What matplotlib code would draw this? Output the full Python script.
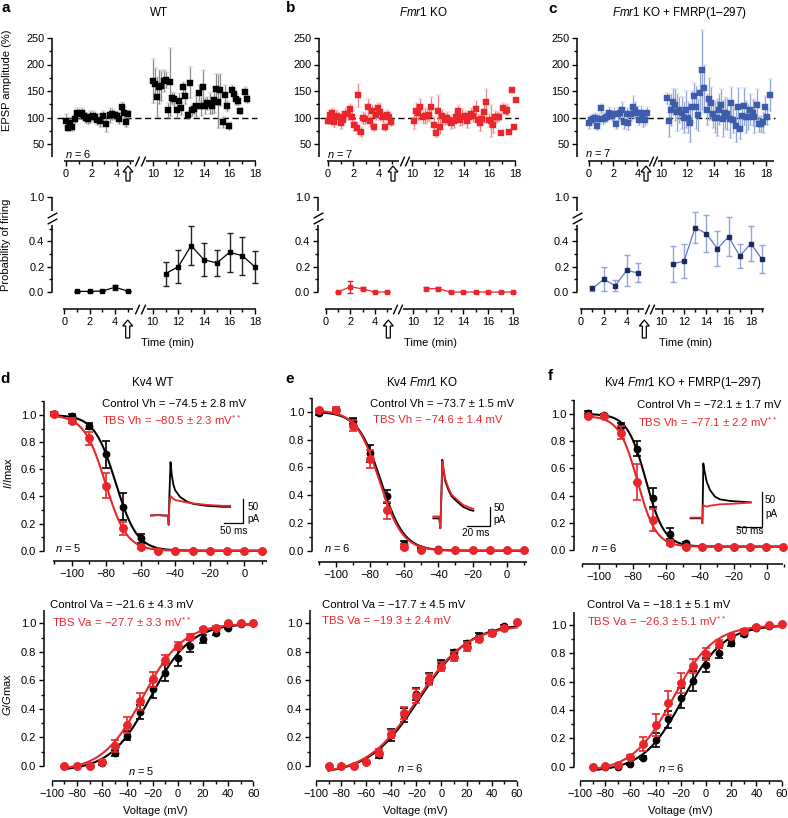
import numpy as np
import matplotlib
matplotlib.use('Agg')
import matplotlib.pyplot as plt
from matplotlib.path import Path
from matplotlib.lines import Line2D

plt.rcParams['font.family'] = ['Liberation Sans', 'DejaVu Sans']
plt.rcParams['mathtext.fontset'] = 'custom'
plt.rcParams['mathtext.rm'] = 'Liberation Sans'
plt.rcParams['mathtext.it'] = 'Liberation Sans:italic'
plt.rcParams['mathtext.bf'] = 'Liberation Sans:bold'
plt.rcParams['axes.unicode_minus'] = True

# ============================ DATA ============================
# ---- (a) WT : EPSP amplitude (%) ----
wt_pre_t = [0.0, 0.15, 0.34, 0.46, 0.72, 0.85, 1.06, 1.24, 1.42, 1.57, 1.73, 1.88, 2.09, 2.27,
            2.45, 2.66, 2.92, 3.17, 3.43, 3.61, 3.82, 4.0, 4.15, 4.36, 4.52, 4.72, 4.88]
wt_pre_amp = [94, 80, 89, 83, 97, 108, 106, 108, 102, 99, 97, 101, 103, 101,
              96, 94, 103, 88, 104, 106, 105, 103, 98, 119, 109, 91, 106]
wt_pre_err = [12, 6, 10, 8, 8, 10, 9, 10, 8, 10, 9, 12, 10, 8,
              10, 12, 10, 15, 14, 10, 8, 8, 10, 10, 10, 9, 8]
wt_post_t = [9.97, 10.13, 10.31, 10.49, 10.65, 10.83, 11.01, 11.16, 11.34, 11.52, 11.65, 11.86,
             12.04, 12.19, 12.37, 12.55, 12.71, 12.89, 13.07, 13.23, 13.41, 13.59, 13.74, 13.92,
             14.1, 14.26, 14.44, 14.62, 14.77, 14.95, 15.11, 15.29, 15.47, 15.65, 15.81, 15.99,
             16.17, 16.32, 16.5, 16.66, 16.81, 17.2, 17.35]
wt_post_amp = [169, 164, 139, 157, 159, 169, 171, 114, 167, 136, 134, 114,
               132, 117, 157, 141, 105, 166, 114, 116, 121, 146, 121, 157,
               122, 127, 126, 122, 133, 153, 130, 152, 91, 143, 122, 84,
               152, 144, 134, 131, 112, 149, 135]
wt_post_err = [41, 30, 38, 32, 28, 20, 15, 14, 64, 10, 12, 14,
               15, 12, 10, 15, 8, 30, 12, 10, 20, 15, 18, 32,
               15, 12, 20, 15, 25, 30, 50, 30, 10, 18, 10, 8,
               10, 10, 10, 8, 6, 8, 8]

# ---- (b) Fmr1 KO : EPSP amplitude (%) ----
ko_pre_t = [0.0, 0.13, 0.32, 0.47, 0.66, 0.84, 1.0, 1.18, 1.37, 1.53, 1.71, 1.89, 2.05, 2.24,
            2.39, 2.55, 2.76, 2.92, 3.11, 3.29, 3.45, 3.61, 3.79, 3.95, 4.11, 4.29, 4.45, 4.61,
            4.76, 4.95]
ko_pre_amp = [94, 105, 108, 92, 102, 101, 90, 96, 107, 107, 116, 101, 85, 80,
              142, 73, 99, 98, 119, 93, 112, 82, 105, 117, 110, 101, 82, 105, 101, 92]
ko_pre_err = [6, 10, 10, 10, 12, 10, 12, 10, 10, 12, 10, 12, 10, 12,
              22, 10, 12, 10, 15, 10, 12, 8, 10, 10, 15, 10, 8, 10, 10, 8]
ko_post_t = [10.13, 10.31, 10.46, 10.65, 10.83, 10.98, 11.16, 11.34, 11.5, 11.68, 11.83, 12.01,
             12.19, 12.35, 12.53, 12.71, 12.86, 13.05, 13.23, 13.38, 13.56, 13.74, 13.9, 14.08,
             14.26, 14.41, 14.59, 14.77, 14.93, 15.11, 15.26, 15.45, 15.6, 15.75, 15.94, 16.12,
             16.27, 16.43, 16.63, 16.79, 16.94, 17.1, 17.28, 17.41, 17.56, 17.74, 17.9, 18.05]
ko_post_amp = [93, 112, 108, 120, 101, 102, 103, 105, 120, 86, 71, 113,
               83, 102, 96, 99, 95, 89, 93, 101, 112, 96, 101, 102,
               93, 101, 107, 103, 116, 96, 89, 97, 110, 129, 95, 93,
               86, 101, 101, 101, 71, 118, 113, 115, 72, 151, 83, 133]
ko_post_err = [15, 15, 12, 15, 12, 15, 12, 12, 18, 15, 8, 30,
               15, 12, 10, 12, 10, 10, 12, 10, 12, 12, 15, 10,
               12, 12, 10, 12, 15, 10, 15, 12, 20, 25, 12, 30,
               15, 12, 10, 8, 0, 10, 8, 10, 0, 0, 0, 0]

# ---- (c) Fmr1 KO + FMRP(1-297) : EPSP amplitude (%) ----
res_pre_t = [0.0, 0.17, 0.3, 0.5, 0.66, 0.86, 0.97, 1.19, 1.35, 1.52, 1.68, 1.88, 2.07, 2.23,
             2.4, 2.57, 2.76, 2.92, 3.12, 3.26, 3.45, 3.61, 3.78, 3.94, 4.11, 4.28, 4.44, 4.61, 4.77]
res_pre_amp = [89, 95, 98, 100, 84, 97, 117, 98, 100, 101, 109, 103, 106, 87,
               106, 108, 115, 91, 106, 89, 106, 120, 114, 109, 95, 109, 98, 95, 109]
res_pre_err = [10, 10, 8, 8, 8, 10, 8, 10, 8, 10, 10, 10, 12, 8,
               12, 12, 15, 12, 12, 12, 12, 20, 15, 12, 10, 12, 15, 10, 10]
res_post_t = [10.43, 10.61, 10.76, 10.94, 11.09, 11.25, 11.4, 11.58, 11.73, 11.88,
              12.04, 12.21, 12.37, 12.52, 12.67, 12.85, 13.0, 13.16, 13.31, 13.49,
              13.64, 13.79, 13.94, 14.12, 14.27, 14.43, 14.58, 14.73, 14.89, 15.06,
              15.22, 15.37, 15.52, 15.7, 15.85, 16.01, 16.16, 16.34, 16.49, 16.64,
              16.79, 16.97, 17.12, 17.28, 17.43, 17.61, 17.76, 17.94, 18.09, 18.3]
res_post_amp = [136, 93, 114, 129, 123, 110, 114, 109, 100, 115,
                100, 89, 120, 141, 119, 104, 147, 190, 155, 115,
                135, 127, 106, 100, 100, 115, 123, 98, 109, 106,
                97, 127, 95, 84, 120, 79, 102, 121, 101, 101,
                115, 109, 101, 123, 87, 87, 91, 120, 101, 142]
res_post_err = [10, 30, 30, 25, 30, 35, 25, 30, 30, 35,
                30, 35, 30, 25, 40, 30, 40, 75, 45, 30,
                40, 30, 25, 30, 35, 30, 30, 35, 30, 30,
                35, 30, 25, 30, 35, 20, 25, 35, 30, 25,
                30, 25, 30, 30, 15, 15, 20, 20, 15, 30]

# ---- Probability of firing ----
prob_pre_t = [1, 2, 3, 4, 5]
wt_prob_pre = [0.005, 0.005, 0.008, 0.037, 0.008]
wt_prob_pre_err = [0.003, 0.003, 0.003, 0.02, 0.003]
wt_prob_post_t = [11, 12, 13, 14, 15, 16, 17, 18]
wt_prob_post = [0.145, 0.20, 0.366, 0.255, 0.229, 0.313, 0.287, 0.197]
wt_prob_post_err = [0.095, 0.13, 0.155, 0.13, 0.10, 0.155, 0.15, 0.125]

ko_prob_pre = [0.0, 0.042, 0.024, 0.0, 0.0]
ko_prob_pre_err = [0.0, 0.048, 0.012, 0.0, 0.0]
ko_prob_post_t = [11, 12, 13, 14, 15, 16, 17, 18]
ko_prob_post = [0.026, 0.026, 0.0, 0.0, 0.0, 0.0, 0.0, 0.0]
ko_prob_post_err = [0.01, 0.012, 0.0, 0.0, 0.0, 0.0, 0.0, 0.0]

res_prob_pre = [0.029, 0.10, 0.05, 0.171, 0.15]
res_prob_pre_err = [0.02, 0.095, 0.045, 0.12, 0.075]
res_prob_post_t = [11, 12, 13, 14, 15, 16, 17, 18, 19]
res_prob_post = [0.221, 0.245, 0.508, 0.46, 0.342, 0.437, 0.284, 0.382, 0.258]
res_prob_post_err = [0.14, 0.135, 0.12, 0.145, 0.14, 0.155, 0.095, 0.14, 0.11]

# ---- (d-f) Kv4 steady-state inactivation (I/Imax) ----
inact_v = [-110, -100, -90, -80, -70, -60, -50, -40, -30, -20, -10, 0, 10]
d_inact_ctrl = [1.01, 0.995, 0.92, 0.71, 0.325, 0.09, 0.0, 0.0, 0.0, 0.0, 0.0, 0.0, 0.0]
d_inact_ctrl_err = [0.01, 0.01, 0.02, 0.10, 0.10, 0.03, 0.0, 0, 0, 0, 0, 0, 0]
d_inact_tbs = [1.005, 0.958, 0.828, 0.48, 0.165, 0.03, 0.0, 0.0, 0.0, 0.0, 0.0, 0.0, 0.0]
d_inact_tbs_err = [0.01, 0.02, 0.05, 0.095, 0.05, 0.015, 0.0, 0, 0, 0, 0, 0, 0]

e_inact_ctrl = [0.99, 1.01, 0.935, 0.70, 0.39, 0.05, 0.015, 0.015, 0.005, 0.005, 0.005, 0.005, 0.005]
e_inact_ctrl_err = [0.015, 0.01, 0.02, 0.06, 0.045, 0.02, 0.005, 0, 0, 0, 0, 0, 0]
e_inact_tbs = [1.01, 1.015, 0.90, 0.66, 0.29, 0.03, 0.005, 0.005, 0.005, 0.005, 0.005, 0.005, 0.005]
e_inact_tbs_err = [0.01, 0.02, 0.04, 0.065, 0.06, 0.015, 0.0, 0, 0, 0, 0, 0, 0]

f_inact_v = [-106.5, -97, -87, -77.5, -68, -58, -48.5, -39, -29, -19.5, -10, -0.5, 9.5]
f_inact_ctrl = [1.01, 0.99, 0.915, 0.745, 0.385, 0.12, 0.05, 0.025, 0.025, 0.025, 0.025, 0.025, 0.025]
f_inact_ctrl_err = [0.01, 0.01, 0.02, 0.055, 0.07, 0.04, 0.01, 0, 0, 0, 0, 0, 0]
f_inact_tbs = [0.985, 0.985, 0.863, 0.50, 0.22, 0.055, 0.02, 0.025, 0.025, 0.025, 0.025, 0.025, 0.025]
f_inact_tbs_err = [0.01, 0.01, 0.05, 0.135, 0.08, 0.015, 0.005, 0, 0, 0, 0, 0, 0]

# Boltzmann fit parameters (Vh, slope, top, bottom)
d_inact_fit_ctrl = (-74.5, 6.2, 1.0, 0.0)
d_inact_fit_tbs = (-80.5, 6.2, 1.0, 0.0)
e_inact_fit_ctrl = (-73.7, 6.8, 1.0, 0.0)
e_inact_fit_tbs = (-74.6, 6.8, 1.01, 0.0)
f_inact_fit_ctrl = (-72.1, 5.5, 1.0, 0.025)
f_inact_fit_tbs = (-77.1, 5.5, 0.985, 0.025)

# ---- (d-f) Kv4 activation (G/Gmax) ----
act_v = [-90, -80, -70, -60, -50, -40, -30, -20, -10, 0, 10, 20, 30, 40, 50, 60]
d_act_ctrl = [0.0, 0.0, 0.0, 0.02, 0.09, 0.213, 0.38, 0.537, 0.654, 0.76, 0.84, 0.89, 0.935, 0.97, 0.995, 1.0]
d_act_ctrl_err = [0, 0, 0, 0.015, 0.02, 0.03, 0.05, 0.06, 0.06, 0.06, 0.04, 0.03, 0.02, 0.01, 0.005, 0]
d_act_tbs = [0.0, 0.0, 0.0, 0.03, 0.14, 0.287, 0.455, 0.607, 0.743, 0.84, 0.906, 0.958, 0.97, 1.0, 1.0, 1.0]
d_act_tbs_err = [0, 0, 0, 0.01, 0.04, 0.055, 0.06, 0.05, 0.035, 0.03, 0.02, 0.01, 0.01, 0.005, 0, 0]
e_act_ctrl = [0, 0, 0, 0.025, 0.078, 0.217, 0.357, 0.505, 0.62, 0.724, 0.80, 0.86, 0.914, 0.942, 0.98, 1.01]
e_act_ctrl_err = [0, 0, 0, 0.005, 0.02, 0.04, 0.05, 0.045, 0.035, 0.02, 0.015, 0.015, 0.015, 0.01, 0.01, 0]
e_act_tbs = [0, 0, 0, 0.025, 0.093, 0.224, 0.37, 0.49, 0.607, 0.696, 0.766, 0.836, 0.89, 0.93, 0.965, 1.01]
e_act_tbs_err = [0, 0, 0, 0.005, 0.025, 0.03, 0.04, 0.05, 0.04, 0.03, 0.03, 0.03, 0.02, 0.02, 0.015, 0]
f_act_ctrl = [0, 0, 0, 0.02, 0.064, 0.188, 0.334, 0.482, 0.607, 0.718, 0.805, 0.875, 0.935, 0.976, 0.995, 1.01]
f_act_ctrl_err = [0, 0, 0, 0.005, 0.01, 0.05, 0.06, 0.07, 0.07, 0.05, 0.035, 0.02, 0.015, 0.01, 0.005, 0]
f_act_tbs = [0, 0.005, 0.014, 0.07, 0.158, 0.294, 0.452, 0.593, 0.71, 0.795, 0.866, 0.922, 0.96, 0.988, 1.0, 1.01]
f_act_tbs_err = [0, 0, 0, 0.015, 0.05, 0.08, 0.085, 0.07, 0.05, 0.04, 0.025, 0.015, 0.01, 0.005, 0, 0]

d_act_fit_ctrl = (-21.6, 16.0, 1.0, -0.035)
d_act_fit_tbs = (-27.7, 16.0, 1.0, -0.035)
e_act_fit_ctrl = (-17.7, 20.0, 1.0, -0.06)
e_act_fit_tbs = (-19.3, 20.0, 0.99, -0.06)
f_act_fit_ctrl = (-18.1, 16.0, 1.0, -0.035)
f_act_fit_tbs = (-26.3, 16.0, 1.0, -0.035)

# ---- inset current traces (ms, pA) ----
d_trace_t = [0, 20, 40, 47, 48.3, 50, 53, 56, 60, 65, 78, 95, 112, 147, 190, 207]
d_trace_ctrl = [0, 1, 0, 0, -19, 40, 110, 85, 65, 52, 38, 29, 24, 20, 18, 18]
d_trace_tbs = [0, 1, 0, 0, -19, 20, 40, 38, 35, 32, 30, 27, 25, 22, 20, 20]
e_trace_t = [0, 5.1, 6.0, 6.9, 7.7, 8.6, 10, 12.9, 15.7, 20, 25.7, 31.5, 34.3]
e_trace_ctrl = [0, 0, -26, 60, 154, 130, 100, 75, 58, 45, 30, 22, 20]
e_trace_tbs = [5, 5, -26, 60, 150, 135, 105, 80, 62, 50, 35, 28, 25]
f_trace_t = [0, 23.6, 25, 26.4, 27.1, 29.3, 34.3, 41.4, 52.1, 62.8, 84.3, 105.7, 128.5]
f_trace_ctrl = [0, 0, -7.1, 42.8, 78.5, 69, 52.4, 40.5, 30.9, 27.1, 24.8, 23.8, 22.8]
f_trace_tbs = [1, 1, -7.1, 14.3, 19, 18.1, 16.7, 18.1, 19, 20, 20.5, 21.4, 22.4]

# ============================ STYLE / HELPERS ============================
RED = '#e8262b'
RED_LIGHT = '#f07f82'
BLUE = '#3d5cac'
BLUE_LIGHT = '#93a5d8'
BLUE_LINE = '#5b76c6'
NAVY = '#1c2a5e'
GRAY = '#8a8a8a'
FS = 8
FS_NOTE = 8.2
FS_TITLE = 8.4
SPW = 1.1

W, H = 788, 818
fig = plt.figure(figsize=(W / 100, H / 100), dpi=100)


def add_ax(l, t, r, b):
    return fig.add_axes([l / W, 1 - b / H, (r - l) / W, (b - t) / H])


def lin(p, v1, p1, v2, p2):
    return v1 + (p - p1) * (v2 - v1) / (p2 - p1)


def ftext(x, y, s, **kw):
    kw.setdefault('fontsize', FS)
    return fig.text(x / W, 1 - y / H, s, **kw)


def make_break(lo, hi, t_hi, r=1.0):
    xs = np.array([lo - 1e4, lo, hi, hi + 1e4])
    ts = np.array([lo - 1e4, lo, t_hi, t_hi + r * 1e4])

    def fwd(v):
        return np.interp(np.asarray(v, dtype=float), xs, ts)

    def inv(t):
        return np.interp(np.asarray(t, dtype=float), ts, xs)
    return fwd, inv


SLASH_X = Path([(-0.45, -1.0), (0.45, 1.0)], [Path.MOVETO, Path.LINETO])
SLASH_Y = Path([(-1.0, -0.55), (1.0, 0.55)], [Path.MOVETO, Path.LINETO])


def style(ax, fs=FS):
    for s in ('top', 'right'):
        ax.spines[s].set_visible(False)
    for s in ('left', 'bottom'):
        ax.spines[s].set_linewidth(SPW)
        ax.spines[s].set_capstyle('butt')
    ax.tick_params(which='major', length=3.5, width=1.0, labelsize=fs, pad=2)
    ax.tick_params(which='minor', length=2.0, width=1.0)
    ax.patch.set_visible(False)


def break_x(ax, p0, s, t10, r, pl, pr, seg1, marks, seg2, x_end):
    fwd, inv = make_break(5.2, 9.6, t10 - r * 0.4, r)
    ax.set_xscale('function', functions=(fwd, inv))
    ax.set_xlim(float(inv((pl - p0) / s)), float(inv((pr - p0) / s)))
    ax.spines['bottom'].set_bounds(float(inv(seg1[0])), float(inv(seg1[1])))
    tr = ax.get_xaxis_transform()
    ax.add_line(Line2D([float(inv(seg2)), x_end], [0, 0], transform=tr, color='k',
                       lw=SPW, clip_on=False, solid_capstyle='butt'))
    ax.add_line(Line2D([float(inv(m)) for m in marks], [0, 0], transform=tr, ls='none',
                       marker=SLASH_X, markersize=7, markeredgecolor='k',
                       markeredgewidth=1.0, clip_on=False))


def hollow_arrow(x, tip, tail):
    fig.add_artist(matplotlib.patches.FancyArrow(
        x / W, 1 - tail / H, 0, (tail - tip) / H, width=4 / W, head_width=10 / W,
        head_length=6 / H, length_includes_head=True, fc='white', ec='k', lw=0.9,
        transform=fig.transFigure))


# ============================ TOP ROW : EPSP ============================
top_cfg = [
    dict(l=52, r=259, p0=66.0, s=12.75, t10=6.82, rr=1.0, seg1=(-0.15, 5.37),
         marks=(5.57, 6.06), seg2=6.27, xend=18.1, minor=[1, 3, 5, 11, 13, 15, 17],
         pre=(wt_pre_t, wt_pre_amp, wt_pre_err), post=(wt_post_t, wt_post_amp, wt_post_err),
         mc='k', ec=GRAY, n=r'$\mathit{n}$ = 6', npos=(65, 153.5), dash=(0.024, 0.99), arrow=128),
    dict(l=319, r=519, p0=328.0, s=12.75, t10=6.59, rr=1.01, seg1=(-0.08, 5.53),
         marks=(5.79, 6.18), seg2=6.45, xend=18.1, minor=[1, 3, 5, 11, 13, 15, 17],
         pre=(ko_pre_t, ko_pre_amp, ko_pre_err), post=(ko_post_t, ko_post_amp, ko_post_err),
         mc=RED, ec=RED_LIGHT, n=r'$\mathit{n}$ = 7', npos=(327, 154), dash=(0.005, 1.0), arrow=393),
    dict(l=577, r=777, p0=589.0, s=12.1, t10=5.95, rr=1.085, seg1=(-0.08, 4.99),
         marks=(5.14, 5.46), seg2=5.69, xend=18.6, minor=[1, 3, 11, 13, 15, 17],
         pre=(res_pre_t, res_pre_amp, res_pre_err), post=(res_post_t, res_post_amp, res_post_err),
         mc=BLUE, ec=BLUE_LIGHT, n=r'$\mathit{n}$ = 7', npos=(585, 153), dash=(0.01, 0.99), arrow=646),
]
TOPY = (250, 38, 50, 144)
for c in top_cfg:
    ax = add_ax(c['l'], 28, c['r'], 161)
    style(ax, 7.9)
    break_x(ax, c['p0'], c['s'], c['t10'], c['rr'], c['l'], c['r'], c['seg1'], c['marks'],
            c['seg2'], c['xend'])
    ax.set_ylim(lin(161, *TOPY), lin(28, *TOPY))
    ax.spines['left'].set_bounds(25, 250)
    ax.set_yticks([50, 100, 150, 200, 250])
    ax.set_yticks([75, 125, 175, 225], minor=True)
    maj = [0, 2, 4, 10, 12, 14, 16, 18]
    ax.set_xticks(maj, [str(v) for v in maj])
    ax.set_xticks(c['minor'], minor=True)
    ax.axhline(100, xmin=c['dash'][0], xmax=c['dash'][1], color='k', lw=1.0,
               ls=(0, (4.5, 2.5)), zorder=1)
    for (t, v, e) in (c['pre'], c['post']):
        ax.errorbar(t, v, yerr=e, fmt='s', ms=3.8, mfc=c['mc'], mec=c['mc'], mew=0.3,
                    ecolor=c['ec'], elinewidth=0.9, capsize=1.8, capthick=0.9, zorder=3)
    ftext(c['npos'][0], c['npos'][1], c['n'], ha='left', va='center', fontsize=7.9)
    hollow_arrow(c['arrow'], 166, 181)

# ============================ PROBABILITY ROW ============================
prob_cfg = [
    dict(l=52, r=259, p0=64.3, s=12.67, t10=6.98, rr=1.01, seg1=(-0.1, 5.45),
         marks=(5.76, 6.18), seg2=6.5, xend=18.05, minor=[1, 3, 5, 11, 13, 15, 17],
         pre=(prob_pre_t, wt_prob_pre, wt_prob_pre_err),
         post=(wt_prob_post_t, wt_prob_post, wt_prob_post_err),
         mc='k', lc='k', ec='#222222', arrow=127.7, tl=167.5),
    dict(l=318, r=517, p0=325.7, s=12.33, t10=7.1, rr=1.013, seg1=(-0.05, 5.35),
         marks=(5.62, 6.03), seg2=6.3, xend=18.05, minor=[1, 3, 5, 11, 13, 15, 17],
         pre=(prob_pre_t, ko_prob_pre, ko_prob_pre_err),
         post=(ko_prob_post_t, ko_prob_post, ko_prob_post_err),
         mc=RED, lc=RED, ec=RED, arrow=388.3, tl=430.5),
    dict(l=577, r=767, p0=581.0, s=11.42, t10=7.07, rr=0.976, seg1=(-0.09, 5.52),
         marks=(5.75, 6.19), seg2=6.48, xend=19.2, minor=[1, 3, 5, 11, 13, 15, 17, 19],
         pre=(prob_pre_t, res_prob_pre, res_prob_pre_err),
         post=(res_prob_post_t, res_prob_post, res_prob_post_err),
         mc=NAVY, lc=BLUE_LINE, ec=BLUE_LIGHT, arrow=644.3, tl=685.5),
]
fwd_y, inv_y = make_break(0.65, 1.0, 0.75, 1.0)
PY0, PYS = 292.0, 126.7
for c in prob_cfg:
    ax = add_ax(c['l'], 195, c['r'], 309)
    style(ax, 7.9)
    break_x(ax, c['p0'], c['s'], c['t10'], c['rr'], c['l'], c['r'], c['seg1'], c['marks'],
            c['seg2'], c['xend'])
    ax.set_yscale('function', functions=(fwd_y, inv_y))
    ax.set_ylim(float(inv_y((PY0 - 309) / PYS)), float(inv_y((PY0 - 195) / PYS)))
    ax.spines['left'].set_bounds(0.0, 0.53)
    ytr = ax.get_yaxis_transform()
    ax.add_line(Line2D([0, 0], [0.637, 1.0], transform=ytr, color='k', lw=SPW,
                       clip_on=False, solid_capstyle='butt'))
    ax.add_line(Line2D([0, 0], [0.56, 0.61], transform=ytr, ls='none', marker=SLASH_Y,
                       markersize=7, markeredgecolor='k', markeredgewidth=1.0, clip_on=False))
    ax.set_yticks([0.0, 0.2, 0.4, 1.0], ['0.0', '0.2', '0.4', '1.0'])
    ax.set_yticks([0.1, 0.3, 0.5], minor=True)
    maj = [0, 2, 4, 10, 12, 14, 16, 18]
    ax.set_xticks(maj, [str(v) for v in maj])
    ax.set_xticks(c['minor'], minor=True)
    for (t, v, e) in (c['pre'], c['post']):
        ax.errorbar(t, v, yerr=e, fmt='-s', ms=3.3, color=c['lc'], mfc=c['mc'], mec=c['mc'],
                    lw=0.9, ecolor=c['ec'], elinewidth=1.0, capsize=2.2, capthick=1.0,
                    zorder=3)
    ftext(c['tl'], 343, 'Time (min)', ha='center', va='center')
    hollow_arrow(c['arrow'], 320, 338)

# ============================ INACTIVATION ROW ============================
def boltz_inact(v, p):
    vh, k, top, bot = p
    return bot + (top - bot) / (1 + np.exp((v - vh) / k))


def boltz_act(v, p):
    va, k, top, bot = p
    return bot + (top - bot) / (1 + np.exp(-(v - va) / k))


inact_cfg = [
    dict(rect=(44, 400, 268, 561), xref=(-100, 71.7, 0, 244.3), yref=(1.0, 415, 0.0, 550.7),
         xsp=(-111, 13), v=inact_v, c=d_inact_ctrl, ce=d_inact_ctrl_err, t=d_inact_tbs,
         te=d_inact_tbs_err, fc=d_inact_fit_ctrl, ft=d_inact_fit_tbs, vr=(-110, 10)),
    dict(rect=(312, 397, 528, 562), xref=(-100, 336.0, 0, 506.7), yref=(1.0, 411.7, 0.0, 550.7),
         xsp=(-110.5, 12), v=inact_v, c=e_inact_ctrl, ce=e_inact_ctrl_err, t=e_inact_tbs,
         te=e_inact_tbs_err, fc=e_inact_fit_ctrl, ft=e_inact_fit_tbs, vr=(-110, 10)),
    dict(rect=(574, 400, 784, 564), xref=(-100, 599.0, 0, 767.3), yref=(1.0, 414, 0.0, 550),
         xsp=(-110, 9.6), v=f_inact_v, c=f_inact_ctrl, ce=f_inact_ctrl_err, t=f_inact_tbs,
         te=f_inact_tbs_err, fc=f_inact_fit_ctrl, ft=f_inact_fit_tbs, vr=(-107, 9.5)),
]
for c in inact_cfg:
    l, t_, r, b = c['rect']
    ax = add_ax(l, t_, r, b)
    style(ax)
    ax.set_xlim(lin(l, *c['xref']), lin(r, *c['xref']))
    ax.set_ylim(lin(b, *c['yref']), lin(t_, *c['yref']))
    ax.spines['bottom'].set_bounds(*c['xsp'])
    ax.spines['left'].set_bounds(0, 1.1)
    xt = [-100, -80, -60, -40, -20, 0]
    ax.set_xticks(xt, [f'{v:g}'.replace('-', '\u2212') for v in xt])
    ax.set_xticks([-110, -90, -70, -50, -30, -10, 10], minor=True)
    yt = [0, 0.2, 0.4, 0.6, 0.8, 1.0]
    ax.set_yticks(yt, [f'{v:.1f}' for v in yt])
    ax.set_yticks([0.1, 0.3, 0.5, 0.7, 0.9, 1.1], minor=True)
    vv = np.linspace(c['vr'][0], c['vr'][1], 300)
    ax.plot(vv, boltz_inact(vv, c['fc']), color='k', lw=1.5, zorder=2)
    ax.errorbar(c['v'], c['c'], yerr=c['ce'], fmt='o', ms=4.6, color='k', elinewidth=1.2,
                capsize=3, capthick=1.2, zorder=3)
    ax.plot(vv, boltz_inact(vv, c['ft']), color=RED, lw=1.5, zorder=4)
    ax.errorbar(c['v'], c['t'], yerr=c['te'], fmt='o', ms=5.4, color=RED, elinewidth=1.2,
                capsize=3, capthick=1.2, zorder=5, clip_on=False)

# ============================ ACTIVATION ROW ============================
act_cfg = [
    dict(rect=(44, 609, 256, 781), xref=(-100, 51.7, 60, 253.3), yref=(1.0, 623.3, 0.0, 766),
         c=d_act_ctrl, ce=d_act_ctrl_err, t=d_act_tbs, te=d_act_tbs_err,
         fc=d_act_fit_ctrl, ft=d_act_fit_tbs),
    dict(rect=(310, 607, 519, 781), xref=(-100, 316.0, 60, 516.7), yref=(1.0, 623.3, 0.0, 766),
         c=e_act_ctrl, ce=e_act_ctrl_err, t=e_act_tbs, te=e_act_tbs_err,
         fc=e_act_fit_ctrl, ft=e_act_fit_tbs),
    dict(rect=(574, 609, 783, 781), xref=(-100, 580.0, 60, 781.7), yref=(1.0, 625, 0.0, 766.7),
         c=f_act_ctrl, ce=f_act_ctrl_err, t=f_act_tbs, te=f_act_tbs_err,
         fc=f_act_fit_ctrl, ft=f_act_fit_tbs),
]
for c in act_cfg:
    l, t_, r, b = c['rect']
    ax = add_ax(l, t_, r, b)
    style(ax)
    ax.set_xlim(lin(l, *c['xref']), lin(r, *c['xref']))
    ax.set_ylim(lin(b, *c['yref']), lin(t_, *c['yref']))
    ax.spines['bottom'].set_bounds(-100, 60)
    ax.spines['left'].set_bounds(0, 1.09)
    xt = [-100, -80, -60, -40, -20, 0, 20, 40, 60]
    ax.set_xticks(xt, [f'{v:g}'.replace('-', '\u2212') for v in xt])
    ax.set_xticks([-90, -70, -50, -30, -10, 10, 30, 50], minor=True)
    yt = [0, 0.2, 0.4, 0.6, 0.8, 1.0]
    ax.set_yticks(yt, [f'{v:.1f}' for v in yt])
    ax.set_yticks([0.1, 0.3, 0.5, 0.7, 0.9], minor=True)
    vv = np.linspace(-90, 60, 300)
    ax.plot(vv, boltz_act(vv, c['fc']), color='k', lw=1.5, zorder=2)
    ax.errorbar(act_v, c['c'], yerr=c['ce'], fmt='o', ms=4.6, color='k', elinewidth=1.2,
                capsize=3, capthick=1.2, zorder=3)
    ax.plot(vv, boltz_act(vv, c['ft']), color=RED, lw=1.5, zorder=4)
    ax.errorbar(act_v, c['t'], yerr=c['te'], fmt='o', ms=5.4, color=RED, elinewidth=1.2,
                capsize=3, capthick=1.2, zorder=5, clip_on=False)

# ============================ INSETS ============================
inset_cfg = [
    dict(rect=(150, 458, 253, 535), xlim=(0, 266), ylim=(-40, 118.5), t=d_trace_t,
         c=d_trace_ctrl, r=d_trace_tbs, bx=(190, 240), by=(-15.8, 34.2),
         t50=(251.7, 18.5), tpa=(251.7, -6.9), tms=(215.5, -31.5), ms='50 ms'),
    dict(rect=(431.7, 455, 506.7, 536.7), xlim=(-1.4, 62.9), ylim=(-48.2, 166.6), t=e_trace_t,
         c=e_trace_ctrl, r=e_trace_tbs, bx=(28.6, 48.6), by=(-19.3, 30.7),
         t50=(51.5, 26.3), tpa=(51.5, -4.4), tms=(36.6, -39.5), ms='20 ms'),
    dict(rect=(688.3, 458.3, 776.7, 533.3), xlim=(-5, 184.2), ylim=(-21.4, 85.7), t=f_trace_t,
         c=f_trace_ctrl, r=f_trace_tbs, bx=(102.1, 152.1), by=(-11.9, 38.1),
         t50=(159, 26.2), tpa=(159, 5.7), tms=(127, -18.1), ms='50 ms'),
]
for c in inset_cfg:
    ax = add_ax(*c['rect'])
    ax.set_xlim(*c['xlim'])
    ax.set_ylim(*c['ylim'])
    ax.axis('off')
    ax.plot(c['t'], c['c'], color='k', lw=1.3, zorder=2)
    ax.plot(c['t'], c['r'], color=RED, lw=1.3, zorder=3)
    ax.plot([c['bx'][0], c['bx'][1], c['bx'][1]], [c['by'][0], c['by'][0], c['by'][1]],
            color='k', lw=0.9, clip_on=False)
    ax.text(*c['t50'], '50', fontsize=7.2, ha='left', va='center', clip_on=False)
    ax.text(*c['tpa'], 'pA', fontsize=7.2, ha='left', va='center', clip_on=False)
    ax.text(*c['tms'], c['ms'], fontsize=7.2, ha='center', va='center', clip_on=False)

# ============================ TEXT ============================
ftext(1, 8.5, 'a', fontsize=11, fontweight='bold', ha='left', va='center')
ftext(286, 8, 'b', fontsize=11, fontweight='bold', ha='left', va='center')
ftext(548, 9, 'c', fontsize=11, fontweight='bold', ha='left', va='center')
ftext(159, 12.5, 'WT', ha='center', va='center', fontsize=FS_TITLE)
ftext(423, 13, r'$\mathit{Fmr1}$ KO', ha='center', va='center', fontsize=FS_TITLE)
ftext(679.5, 13, r'$\mathit{Fmr1}$ KO + FMRP(1–297)', ha='center', va='center', fontsize=FS_TITLE)
ftext(7, 80, 'EPSP amplitude (%)', rotation=90, ha='center', va='center')
ftext(6, 245, 'Probability of firing', rotation=90, ha='center', va='center')

ftext(0, 378.5, 'd', fontsize=11, fontweight='bold', ha='left', va='center')
ftext(285, 378.5, 'e', fontsize=11, fontweight='bold', ha='left', va='center')
ftext(548, 376, 'f', fontsize=11, fontweight='bold', ha='left', va='center')
ftext(152.5, 383, 'Kv4 WT', ha='center', va='center', fontsize=FS_TITLE)
ftext(421.7, 383, r'Kv4 $\mathit{Fmr1}$ KO', ha='center', va='center', fontsize=FS_TITLE)
ftext(682.5, 383, r'Kv4 $\mathit{Fmr1}$ KO + FMRP(1–297)', ha='center', va='center', fontsize=FS_TITLE)

ftext(101.7, 404, 'Control Vh = −74.5 ± 2.8 mV', ha='left', va='center', fontsize=FS_NOTE)
ftext(101.7, 420, r'TBS Vh = −80.5 ± 2.3 mV$^{**}$', ha='left', va='center', color=RED, fontsize=FS_NOTE)
ftext(370, 404, 'Control Vh = −73.7 ± 1.5 mV', ha='left', va='center', fontsize=FS_NOTE)
ftext(373.3, 420, 'TBS Vh = −74.6 ± 1.4 mV', ha='left', va='center', color=RED, fontsize=FS_NOTE)
ftext(637.3, 405, 'Control Vh = −72.1 ± 1.7 mV', ha='left', va='center', fontsize=FS_NOTE)
ftext(638.3, 422, r'TBS Vh = −77.1 ± 2.2 mV$^{**}$', ha='left', va='center', color=RED, fontsize=FS_NOTE)
ftext(55, 547.5, r'$\mathit{n}$ = 5', ha='left', va='center')
ftext(324, 547.5, r'$\mathit{n}$ = 6', ha='left', va='center')
ftext(591, 548.5, r'$\mathit{n}$ = 6', ha='left', va='center')
ftext(7.5, 473, r'$\mathit{I}$/$\mathit{I}$max', rotation=90, ha='center', va='center')

ftext(50, 605.3, 'Control Va = −21.6 ± 4.3 mV', ha='left', va='center', fontsize=FS_NOTE)
ftext(51.7, 622, r'TBS Va = −27.7 ± 3.3 mV$^{**}$', ha='left', va='center', color=RED, fontsize=FS_NOTE)
ftext(321.7, 605, 'Control Va = −17.7 ± 4.5 mV', ha='left', va='center', fontsize=FS_NOTE)
ftext(321.7, 621, 'TBS Va = −19.3 ± 2.4 mV', ha='left', va='center', color=RED, fontsize=FS_NOTE)
ftext(586.7, 605, 'Control Va = −18.1 ± 5.1 mV', ha='left', va='center', fontsize=FS_NOTE)
ftext(586.7, 621, r'TBS Va = −26.3 ± 5.1 mV$^{**}$', ha='left', va='center', color=RED, fontsize=FS_NOTE)
ftext(128, 771, r'$\mathit{n}$ = 5', ha='left', va='center')
ftext(396.7, 767.5, r'$\mathit{n}$ = 6', ha='left', va='center')
ftext(658, 767.5, r'$\mathit{n}$ = 6', ha='left', va='center')
ftext(7, 694, r'$\mathit{G}$/$\mathit{G}$max', rotation=90, ha='center', va='center')
ftext(155, 811, 'Voltage (mV)', ha='center', va='center')
ftext(415.5, 811, 'Voltage (mV)', ha='center', va='center')
ftext(680, 811, 'Voltage (mV)', ha='center', va='center')

fig.savefig('out.png', dpi=100)
